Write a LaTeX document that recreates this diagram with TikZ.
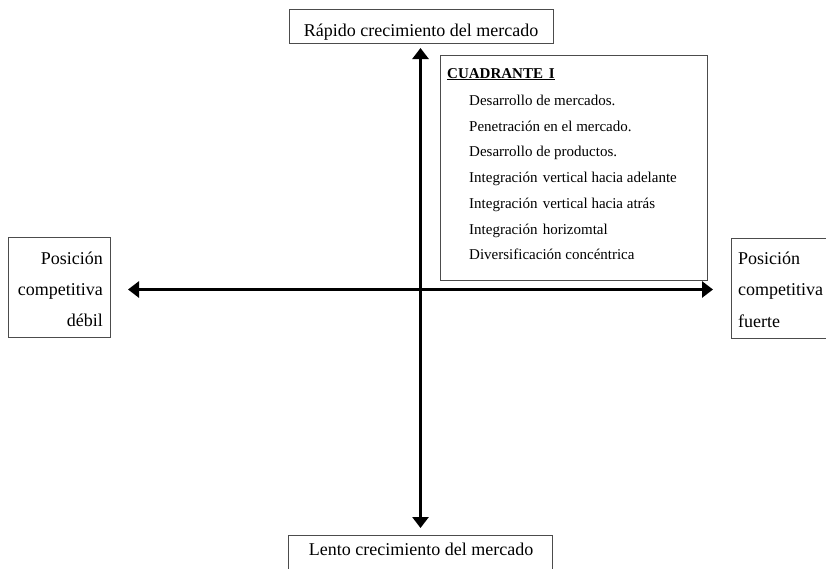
\documentclass[tikz,border=0pt]{standalone}
\usepackage{fontspec}
\setmainfont{Liberation Serif}
\usetikzlibrary{arrows.meta}

\begin{document}
\begin{tikzpicture}[x=1pt,y=-1pt,
  frame/.style={draw=black!70, line width=0.8pt, inner sep=0pt, anchor=north west},
  biglbl/.style={font=\fontsize{18}{22}\selectfont, inner sep=0pt},
  item/.style={font=\fontsize{15}{18}\selectfont, inner sep=0pt, anchor=base west},
  axis/.style={line width=3.5pt,
    {Triangle[length=11pt,width=16pt]}-{Triangle[length=11pt,width=16pt]}}
]
\useasboundingbox (0,0) rectangle (826,568);

% market growth labels
\node[frame, minimum width=264pt, minimum height=34pt] (top) at (289,9) {};
\node[biglbl, anchor=base] (toptxt) at (421,36) {Rápido crecimiento del mercado};
\node[frame, minimum width=264pt, minimum height=34pt] (bot) at (288,535) {};
\node[biglbl, anchor=base] (bottxt) at (421,555) {Lento crecimiento del mercado};

% competitive position labels
\node[frame, minimum width=102pt, minimum height=100pt] (lbox) at (8,237) {};
\node[biglbl, anchor=base east] (l1) at (103,264) {Posición};
\node[biglbl, anchor=base east] (l2) at (103,295.5) {competitiva};
\node[biglbl, anchor=base east] (l3) at (103,326) {débil};

\node[frame, minimum width=95.5pt, minimum height=100pt] (rbox) at (730.5,238) {};
\node[biglbl, anchor=base west] (r1) at (738,264) {Posición};
\node[biglbl, anchor=base west] (r2) at (738,295.5) {competitiva};
\node[biglbl, anchor=base west] (r3) at (738,327) {fuerte};

% quadrant I strategies
\node[frame, minimum width=267pt, minimum height=225pt] (quad) at (440,55) {};
\node[item] (qhead) at (447,78) {\underline{\textbf{CUADRANTE\hspace{2pt} I}}};
\foreach \t [count=\i] in {Desarrollo de mercados.,
    Penetración en el mercado.,
    Desarrollo de productos.,
    Integración\hspace{1.5pt} vertical hacia adelante,
    Integración\hspace{1.5pt} vertical hacia atrás,
    Integración\hspace{1.5pt} horizomtal,
    Diversificación concéntrica}
  \node[item] (q\i) at (469,{105.5+25.7*(\i-1)}) {\t};

% axes
\coordinate (hl) at (128,289.5);
\coordinate (hr) at (713,289.5);
\coordinate (vt) at (420.5,48);
\coordinate (vb) at (420.5,528);
\draw[axis] (hl) -- (hr);
\draw[axis] (vt) -- (vb);
\end{tikzpicture}
\end{document}
